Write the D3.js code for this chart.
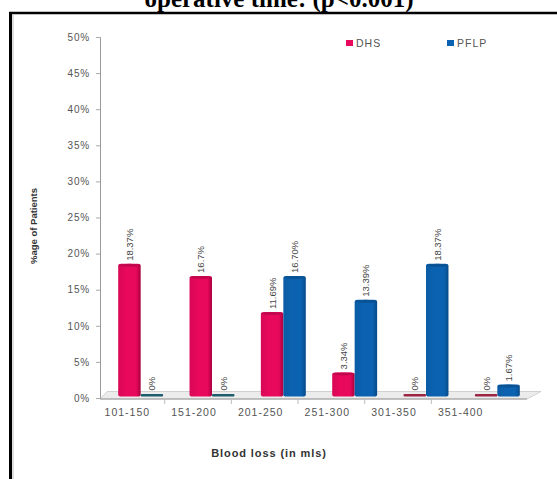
<!DOCTYPE html>
<html><head><meta charset="utf-8">
<script src="https://cdn.jsdelivr.net/npm/d3@7"></script>
<style>html,body{margin:0;padding:0;background:#fff;overflow:hidden}</style>
</head><body>
<script>
const categories = ["101-150","151-200","201-250","251-300","301-350","351-400"];
const seriesNames = ["DHS","PFLP"];
const dhsValues = [18.37, 16.7, 11.69, 3.34, 0, 0];
const pflpValues = [0, 0, 16.70, 13.39, 18.37, 1.67];
const dhsLabels = ["18.37%","16.7%","11.69%","3.34%","0%","0%"];
const pflpLabels = ["0%","0%","16.70%","13.39%","18.37%","1.67%"];
const yTicks = [0,5,10,15,20,25,30,35,40,45,50];
const titleText = "operative time: (p<0.001)";
const xTitle = "Blood loss (in mls)";
const yTitle = "%age of Patients";

const W = 557, H = 479;
const svg = d3.select("body").append("svg").attr("width", W).attr("height", H)
  .style("font-family", "'Liberation Sans', Arial, sans-serif");

const colors = {DHS: "#e8085c", PFLP: "#0b62b0"};
const darks = {DHS: "#a8003c", PFLP: "#074a88"};
const zeroCol = {DHS: "#9c2744", PFLP: "#1d5f6c"};

const defs = svg.append("defs");
seriesNames.forEach(s => {
  const g = defs.append("linearGradient").attr("id", "g" + s).attr("x1", "0").attr("x2", "1");
  g.append("stop").attr("offset", "0").attr("stop-color", d3.color(colors[s]).darker(0.2));
  g.append("stop").attr("offset", "0.35").attr("stop-color", colors[s]);
  g.append("stop").attr("offset", "0.8").attr("stop-color", colors[s]);
  g.append("stop").attr("offset", "1").attr("stop-color", darks[s]);
});

// title (cut off at top, as in the reference)
svg.append("text").attr("x", 279).attr("y", 7).attr("text-anchor", "middle")
  .style("font-family", "'Liberation Serif', 'Times New Roman', serif")
  .style("font-weight", "bold").style("font-size", "25px").attr("fill", "#000")
  .text(titleText);

// frame
svg.append("line").attr("x1", 9).attr("x2", 557).attr("y1", 13).attr("y2", 13)
  .attr("stroke", "#000").attr("stroke-width", 2.5);
svg.append("line").attr("x1", 10.5).attr("x2", 10.5).attr("y1", 12).attr("y2", H)
  .attr("stroke", "#000").attr("stroke-width", 3);
svg.append("line").attr("x1", 13).attr("x2", 13).attr("y1", 14).attr("y2", H)
  .attr("stroke", "#bbb").attr("stroke-width", 1);

const y = d3.scaleLinear().domain([0, 50]).range([398, 37]);
const xLabel = d3.scaleBand().domain(categories).range([94, 494]);
const xGroup = d3.scaleBand().domain(categories).range([105, 533]).paddingInner(0.37).paddingOuter(0.185);
const xSeries = d3.scaleBand().domain(seriesNames).range([0, xGroup.bandwidth()]);

// y axis
const yAxis = svg.append("g").attr("transform", "translate(100,0)")
  .call(d3.axisLeft(y).tickValues(yTicks).tickFormat(d => d + "%").tickSize(4).tickPadding(6));
yAxis.select(".domain").attr("stroke", "#999");
yAxis.selectAll(".tick line").attr("stroke", "#aaa");
yAxis.selectAll("text").attr("fill", "#555").style("font-size", "10px").style("letter-spacing", "0.8px");

// floor (3D base)
const floorPts = [[100, 399], [527, 399], [541, 391.5], [107, 391.5]];
svg.append("polygon").attr("points", floorPts.map(p => p.join(",")).join(" "))
  .attr("fill", "#ececec").attr("stroke", "#c8c8c8").attr("stroke-width", 0.8);
svg.append("line").attr("x1", 100).attr("x2", 527).attr("y1", 399).attr("y2", 399)
  .attr("stroke", "#999").attr("stroke-width", 1);

// x axis labels
const xAxis = svg.append("g").attr("transform", "translate(0,399)")
  .call(d3.axisBottom(xLabel).tickSize(0).tickPadding(10));
xAxis.select(".domain").remove();
xAxis.selectAll("text").attr("fill", "#555").style("font-size", "10.5px").style("letter-spacing", "1px");
// separators
svg.append("g").selectAll("line").data(categories.slice(1)).join("line")
  .attr("x1", d => xLabel(d) + 4).attr("x2", d => xLabel(d) + 4)
  .attr("y1", 399).attr("y2", 404).attr("stroke", "#bbb");

// bars
const rows = categories.map((c, i) => ({c, vals: [
  {s: "DHS", v: dhsValues[i], lab: dhsLabels[i]},
  {s: "PFLP", v: pflpValues[i], lab: pflpLabels[i]}]}));

const grp = svg.append("g").selectAll("g").data(rows).join("g")
  .attr("transform", d => `translate(${xGroup(d.c)},0)`);

const base = y(0) - 1.5;
grp.each(function(d) {
  const g = d3.select(this);
  d.vals.forEach(b => {
    const bx = xSeries(b.s), bw = xSeries.bandwidth();
    if (b.v > 0) {
      const top = y(b.v) - 1.5;
      g.append("rect").attr("x", bx).attr("y", top).attr("width", bw).attr("height", base - top)
        .attr("fill", `url(#g${b.s})`).attr("rx", 3).attr("ry", 2);
      g.append("ellipse").attr("cx", bx + bw / 2).attr("cy", top + 1.5).attr("rx", bw / 2 - 0.5).attr("ry", 1.5)
        .attr("fill", d3.color(colors[b.s]).darker(0.5));
      g.append("text").attr("transform", `translate(${bx + bw / 2 + 3.5},${top - 3}) rotate(-90)`)
        .attr("fill", "#444").style("font-size", "9.5px").text(b.lab);
    } else {
      g.append("rect").attr("x", bx).attr("y", base - 2.5).attr("width", bw).attr("height", 2.5)
        .attr("fill", zeroCol[b.s]).attr("rx", 1);
      g.append("text").attr("transform", `translate(${bx + bw / 2 + 3.5},${base - 6}) rotate(-90)`)
        .attr("fill", "#444").style("font-size", "9.5px").text(b.lab);
    }
  });
});

// legend
const legX = [346, 447];
const leg = svg.append("g").selectAll("g").data(seriesNames).join("g")
  .attr("transform", (d, i) => `translate(${legX[i]},43)`);
leg.append("rect").attr("x", 0).attr("y", -3).attr("width", 7).attr("height", 6)
  .attr("fill", d => colors[d]);
leg.append("text").attr("x", 10).attr("y", 3.5).attr("fill", "#555")
  .style("font-size", "10.5px").style("letter-spacing", "1px").text(d => d);

// axis titles
svg.append("text").attr("x", 269).attr("y", 457).attr("text-anchor", "middle")
  .attr("fill", "#333").style("font-weight", "bold").style("font-size", "11px").style("letter-spacing", "0.9px")
  .text(xTitle);
svg.append("text").attr("transform", "translate(37,226) rotate(-90)").attr("text-anchor", "middle")
  .attr("fill", "#333").style("font-weight", "bold").style("font-size", "9.5px")
  .text(yTitle);
</script>
</body></html>
